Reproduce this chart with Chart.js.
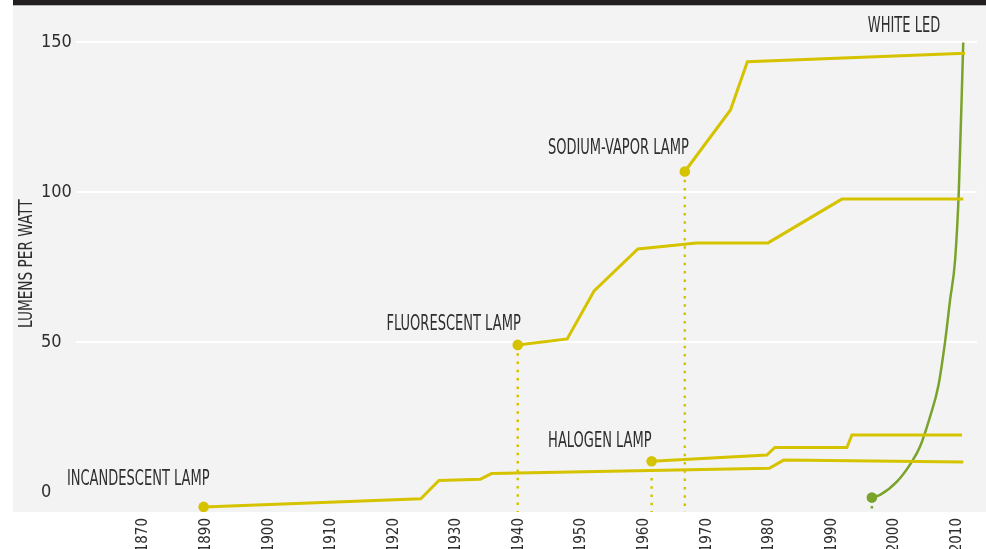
<!DOCTYPE html>
<html>
<head>
<meta charset="utf-8">
<script src="https://cdn.jsdelivr.net/npm/chart.js@4.4.0/dist/chart.umd.min.js"></script>
<style>
  html, body { margin: 0; padding: 0; background: #fff; overflow: hidden; }
  #wrap { width: 986px; height: 549px; overflow: hidden; }
</style>
</head>
<body>
<div id="wrap"><canvas id="myChart" width="986" height="572"></canvas></div>
<script>
//  Data
var incandescentYears = [1889.6, 1924.3, 1927.2, 1933.8, 1935.6, 1980, 1982.3, 2011];
var incandescentValues = [-5, -2.3, 3.8, 4.2, 6.1, 7.9, 10.6, 10.0];

var fluorescentYears = [1939.8, 1947.7, 1952, 1959, 1968.4, 1979.8, 1991.6, 2011];
var fluorescentValues = [49, 51, 67, 81, 83, 83, 97.6, 97.6];

var halogenYears = [1961.2, 1979.6, 1980.9, 1992.4, 1993.2, 2010.8];
var halogenValues = [10.2, 12.3, 14.8, 14.8, 19, 19];

var sodiumYears = [1966.5, 1973.8, 1976.5, 2011.3];
var sodiumValues = [106.8, 127.3, 143.4, 146.2];

var ledYears = [1996.4, 1997.7, 2000.4, 2002.8, 2004.1, 2005.7, 2007.0, 2008.1, 2008.9, 2009.7, 2010.3, 2011];
var ledValues = [-1.9, -1.0, 3.4, 10.1, 15.1, 25.1, 35.1, 50.1, 64, 77.3, 100.7, 149.8];

var xTickYears = [1880, 1890, 1900, 1910, 1920, 1930, 1940, 1950, 1960, 1970, 1980, 1990, 2000, 2010];
var xTickLabels = ["1870", "1890", "1900", "1910", "1920", "1930", "1940", "1950", "1960", "1970", "1980", "1990", "2000", "2010"];
var yTickValues = [0, 50, 100, 150];
var yTickLabels = ["0", "50", "100", "150"];

var lampNames = ["INCANDESCENT LAMP", "FLUORESCENT LAMP", "HALOGEN LAMP", "SODIUM-VAPOR LAMP", "WHITE LED"];
var yTitle = "LUMENS PER WATT";

//  Styles
var yellow = "#d6c300";
var green = "#7aa32b";
var textColor = "#2e2e2e";
var fontFamily = "'DejaVu Sans Condensed', 'Liberation Sans Narrow', 'Liberation Sans', sans-serif";
var yMin = -6.7;
var yMax = 162.2;
var squeeze = 0.69;

// label placement: which series point, and offset from it
var labelAnchors = [
  { series: 0, point: "first", dx: 6, dy: -27 },
  { series: 1, point: "first", dx: 3, dy: -20 },
  { series: 2, point: "first", dx: 0, dy: -20 },
  { series: 3, point: "first", dx: 4, dy: -23 },
  { series: 4, point: "last", dx: -23, dy: -16 }
];

function toPoints(xs, ys) {
  var pts = [];
  for (var i = 0; i < xs.length; i++) {
    pts.push({ x: xs[i], y: ys[i] });
  }
  return pts;
}

var allSeries = [
  { years: incandescentYears, values: incandescentValues, color: yellow, width: 3, drop: false },
  { years: fluorescentYears, values: fluorescentValues, color: yellow, width: 3, drop: true },
  { years: halogenYears, values: halogenValues, color: yellow, width: 3, drop: true },
  { years: sodiumYears, values: sodiumValues, color: yellow, width: 3, drop: true },
  { years: ledYears, values: ledValues, color: green, width: 2.5, drop: true }
];

var datasets = [];

// dotted drop lines first so they sit behind
allSeries.forEach(function(s) {
  if (!s.drop) return;
  datasets.push({
    data: [{ x: s.years[0], y: s.values[0] }, { x: s.years[0], y: yMin }],
    borderColor: s.color,
    borderWidth: 2.5,
    borderDash: [2.5, 5.8],
    pointRadius: 0,
    fill: false
  });
});

allSeries.forEach(function(s) {
  datasets.push({
    data: toPoints(s.years, s.values),
    borderColor: s.color,
    backgroundColor: s.color,
    borderWidth: s.width,
    pointRadius: function(ctx) { return ctx.dataIndex === 0 ? 5.3 : 0; },
    pointBorderWidth: 0,
    cubicInterpolationMode: s.color === green ? "monotone" : "default",
    tension: 0,
    fill: false
  });
});


var backdrop = {
  id: "backdrop",
  beforeDraw: function(chart) {
    var ctx = chart.ctx;
    var area = chart.chartArea;
    ctx.save();
    ctx.fillStyle = "#ffffff";
    ctx.fillRect(0, 0, chart.width, chart.height);
    ctx.fillStyle = "#f3f3f3";
    ctx.fillRect(13, area.top, chart.width - 13, area.bottom - area.top);
    ctx.fillStyle = "#231f20";
    ctx.fillRect(13, 0, chart.width - 13, area.top);
    ctx.restore();
  }
};

var lampLabels = {
  id: "lampLabels",
  afterDatasetsDraw: function(chart) {
    var ctx = chart.ctx;
    var xs = chart.scales.x;
    var ys = chart.scales.y;
    ctx.save();
    ctx.fillStyle = textColor;
    ctx.font = "21px " + fontFamily;
    ctx.textAlign = "right";
    ctx.textBaseline = "middle";
    labelAnchors.forEach(function(a, i) {
      var s = allSeries[a.series];
      var k = a.point === "first" ? 0 : s.years.length - 1;
      var px = xs.getPixelForValue(s.years[k]) + a.dx;
      var py = ys.getPixelForValue(s.values[k]) + a.dy;
      ctx.save();
      ctx.translate(px, py);
      ctx.scale(squeeze, 1);
      ctx.fillText(lampNames[i], 0, 0);
      ctx.restore();
    });

    // y axis title
    var area = chart.chartArea;
    ctx.save();
    ctx.translate(27, (area.top + area.bottom) / 2 + 5);
    ctx.rotate(-Math.PI / 2);
    ctx.scale(0.8, 1);
    ctx.textAlign = "center";
    ctx.font = "19px " + fontFamily;
    ctx.fillText(yTitle, 0, 0);
    ctx.restore();
    ctx.restore();
  }
};


new Chart("myChart", {
  type: "line",
  data: { datasets: datasets },
  plugins: [backdrop, lampLabels],
  options: {
    responsive: false,
    animation: false,
    layout: { padding: { left: 41, right: 9, top: 5, bottom: 0 } },
    plugins: {
      legend: { display: false },
      tooltip: { enabled: false }
    },
    scales: {
      x: {
        type: "linear",
        min: 1869.2,
        max: 2013.2,
        grid: { display: false, drawTicks: false },
        border: { display: false },
        afterBuildTicks: function(axis) {
          axis.ticks = xTickYears.map(function(v) { return { value: v }; });
        },
        afterFit: function(axis) {
          axis.height = 60;
          axis.paddingLeft = 0;
          axis.paddingRight = 0;
        },
        ticks: {
          autoSkip: false,
          minRotation: 90,
          maxRotation: 90,
          padding: 6,
          color: textColor,
          font: { family: fontFamily, size: 15 },
          callback: function(value, index) { return xTickLabels[index]; }
        }
      },
      y: {
        type: "linear",
        min: yMin,
        max: yMax,
        afterBuildTicks: function(axis) {
          axis.ticks = yTickValues.map(function(v) { return { value: v }; });
        },
        afterFit: function(axis) {
          axis.width = 35;
          axis.paddingTop = 0;
          axis.paddingBottom = 0;
        },
        grid: {
          color: function(ctx) { return ctx.tick && ctx.tick.value === 0 ? "rgba(0,0,0,0)" : "#ffffff"; },
          lineWidth: 2,
          drawTicks: false
        },
        border: { display: false },
        ticks: {
          crossAlign: "far",
          color: textColor,
          font: { family: fontFamily, size: 18 },
          callback: function(value, index) { return yTickLabels[index]; }
        }
      }
    }
  }
});
</script>
</body>
</html>
